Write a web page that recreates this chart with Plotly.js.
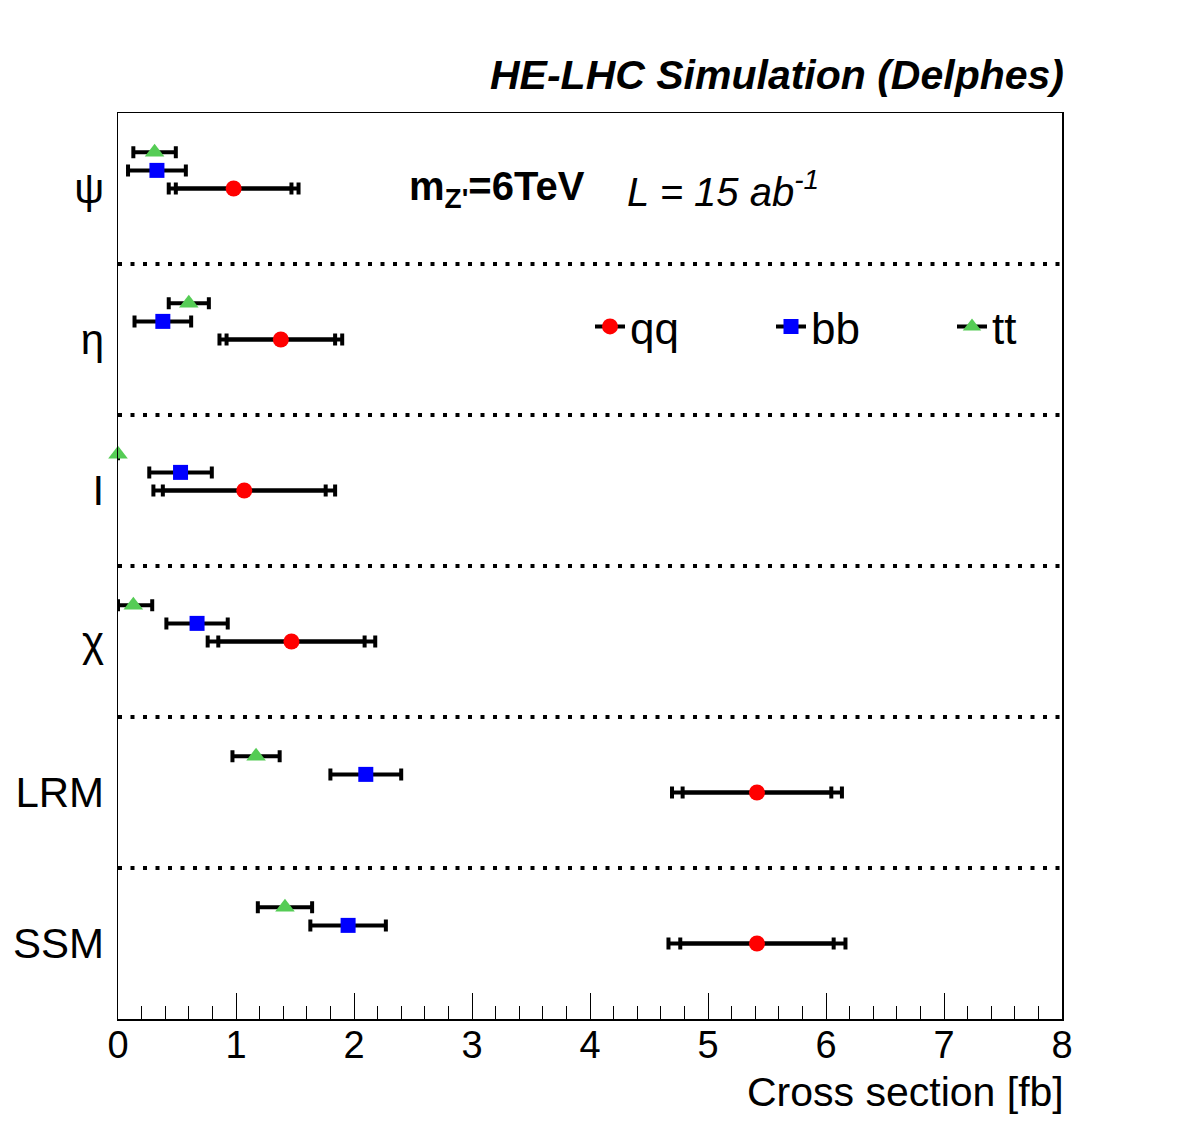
<!DOCTYPE html>
<html>
<head>
<meta charset="utf-8">
<script src="https://cdn.plot.ly/plotly-3.0.1.min.js"></script>
<style>
  html, body { margin: 0; padding: 0; background: #ffffff; }
  #chart { width: 1182px; height: 1134px; }
</style>
</head>
<body>
<div id="chart"></div>
<script>
// Z' models, listed from bottom band to top band
const models = ["SSM", "LRM", "χ", "I", "η", "ψ"];

// qq channel: cross section, inner (stat) and outer (total) uncertainties [fb]
const qqValue = [5.415, 5.415, 1.47, 1.07, 1.38, 0.98];
const qqInner = [0.65, 0.63, 0.62, 0.69, 0.46, 0.49];
const qqOuter = [0.75, 0.72, 0.71, 0.77, 0.52, 0.55];

// bb channel
const bbValue = [1.95, 2.10, 0.67, 0.53, 0.38, 0.33];
const bbError = [0.32, 0.30, 0.26, 0.265, 0.24, 0.245];

// tt channel
const ttValue = [1.415, 1.17, 0.13, 0.0, 0.60, 0.31];
const ttErrPlus = [0.23, 0.20, 0.16, 0.0, 0.17, 0.18];
const ttErrMinus = [0.23, 0.20, 0.13, 0.0, 0.17, 0.18];

// vertical placement of each channel inside a model band
const bandCenter = models.map((m, i) => i + 0.5);
const bbShift = 0.12;
const ttShift = 0.24;

const FONT = "Liberation Sans, Arial, Helvetica, sans-serif";
const barColor = "#000000";

function errX(arr, minus) {
  const e = { type: "data", array: arr, color: barColor, thickness: 4, width: 6 };
  if (minus) { e.symmetric = false; e.arrayminus = minus; }
  return e;
}

const traces = [
  // qq outer (total) error bars
  {
    x: qqValue, y: bandCenter, mode: "markers", type: "scatter",
    marker: { size: 1, color: "rgba(0,0,0,0)" },
    error_x: errX(qqOuter), showlegend: false, hoverinfo: "skip", cliponaxis: false
  },
  // qq inner error bars with markers
  {
    x: qqValue, y: bandCenter, mode: "markers", type: "scatter", name: "qq",
    marker: { symbol: "circle", size: 16, color: "#ff0000" },
    error_x: errX(qqInner), showlegend: false, cliponaxis: false
  },
  {
    x: bbValue, y: bandCenter.map(v => v + bbShift), mode: "markers", type: "scatter", name: "bb",
    marker: { symbol: "square", size: 15, color: "#0000ff" },
    error_x: errX(bbError), showlegend: false, cliponaxis: false
  },
  {
    x: ttValue, y: bandCenter.map(v => v + ttShift), mode: "markers", type: "scatter", name: "tt",
    marker: { symbol: "triangle-up", size: 17, color: "#55cc55" },
    error_x: errX(ttErrPlus, ttErrMinus), showlegend: false, cliponaxis: false
  },
  // legend entries
  {
    x: [null], y: [null], mode: "lines+markers", name: "qq",
    line: { color: "#000", width: 4 }, marker: { symbol: "circle", size: 16, color: "#ff0000" }
  },
  {
    x: [null], y: [null], mode: "lines+markers", name: "bb",
    line: { color: "#000", width: 4 }, marker: { symbol: "square", size: 15, color: "#0000ff" }
  },
  {
    x: [null], y: [null], mode: "lines+markers", name: "tt",
    line: { color: "#000", width: 4 }, marker: { symbol: "triangle-up", size: 17, color: "#55cc55" }
  }
];

// dotted separators between model bands
const shapes = [];
for (let i = 1; i < models.length; i++) {
  shapes.push({
    type: "line", xref: "paper", x0: 0, x1: 1, yref: "y", y0: i, y1: i,
    line: { color: "#000", width: 4, dash: "4px,8.5px" }
  });
}

const layout = {
  width: 1182, height: 1134,
  margin: { l: 118, r: 120, t: 113, b: 115, autoexpand: false },
  paper_bgcolor: "#ffffff", plot_bgcolor: "#ffffff",
  font: { family: FONT, color: "#000" },
  showlegend: true,
  legend: {
    orientation: "h", x: (590 - 118) / 944, xanchor: "left", y: 0.764, yanchor: "middle",
    font: { family: FONT, size: 44, color: "#000" },
    entrywidth: 136, entrywidthmode: "pixels", itemwidth: 30,
    bgcolor: "rgba(0,0,0,0)", tracegroupgap: 0
  },
  xaxis: {
    range: [0, 8], showgrid: false, zeroline: false,
    showline: true, linecolor: "#000", linewidth: 1.5, mirror: true,
    ticks: "inside", ticklen: 26, tickwidth: 1, tickcolor: "#000",
    dtick: 1, tick0: 0,
    minor: { dtick: 0.2, ticks: "inside", ticklen: 13, tickwidth: 1, tickcolor: "#000" },
    tickfont: { family: FONT, size: 38, color: "#000" },
    ticklabelstandoff: -8,
    fixedrange: true
  },
  yaxis: {
    range: [0, 6], showgrid: false, zeroline: false,
    showline: true, linecolor: "#000", linewidth: 1.5, mirror: true,
    ticks: "", tickvals: bandCenter, ticktext: models,
    tickfont: { family: FONT, size: 42, color: "#000" },
    ticklabelstandoff: 4,
    fixedrange: true
  },
  shapes: shapes,
  annotations: [
    {
      xref: "paper", yref: "paper", x: 1, y: (1134 - 75 - 115) / 906, xanchor: "right", yanchor: "middle",
      xshift: 4,
      text: "<b><i>HE-LHC Simulation (Delphes)</i></b>", showarrow: false,
      font: { family: FONT, size: 41, color: "#000" }
    },
    {
      xref: "paper", yref: "paper", x: 1, y: -(1092 - 1019) / 906, xanchor: "right", yanchor: "middle",
      xshift: 4,
      text: "Cross section [fb]", showarrow: false,
      font: { family: FONT, size: 41, color: "#000" }
    },
    {
      xref: "paper", yref: "y", x: (407 - 118) / 944, y: bandCenter[5], xanchor: "left", yanchor: "middle",
      text: "<b>m<sub>Z'</sub>=6TeV</b>", showarrow: false,
      font: { family: FONT, size: 40, color: "#000" }
    },
    {
      xref: "paper", yref: "y", x: (625 - 118) / 944, y: bandCenter[5], xanchor: "left", yanchor: "middle",
      text: "<i>L = 15 ab<sup>-1</sup></i>", showarrow: false,
      font: { family: FONT, size: 40, color: "#000" }
    }
  ]
};

Plotly.newPlot("chart", traces, layout, { staticPlot: true, displayModeBar: false });
</script>
</body>
</html>
